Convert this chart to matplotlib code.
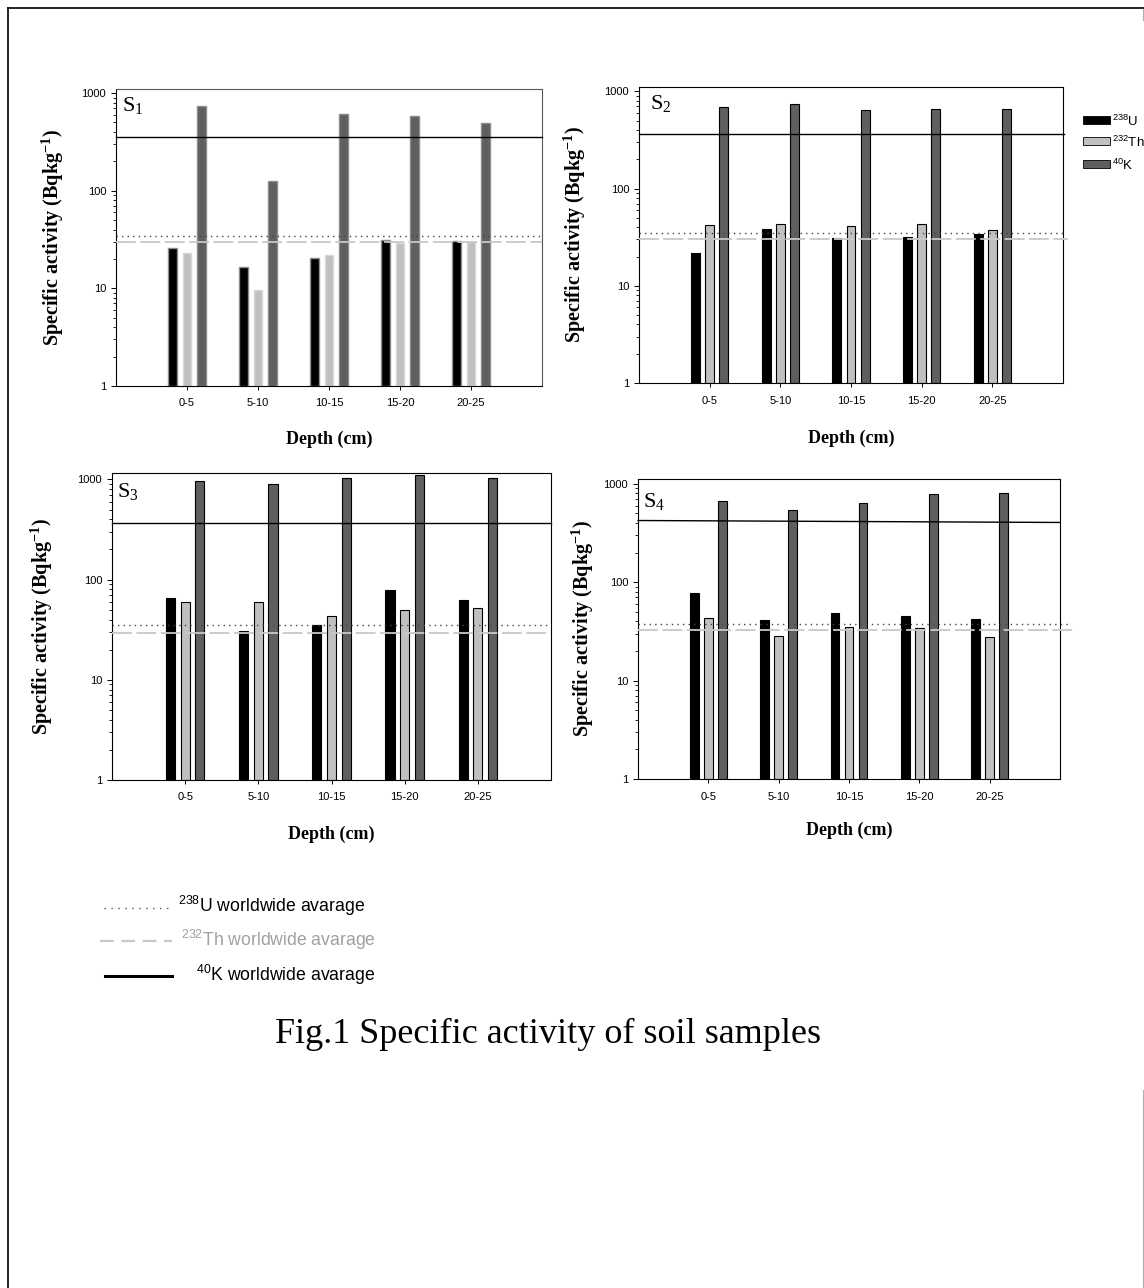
import matplotlib
matplotlib.use('Agg')
import matplotlib.pyplot as plt
from matplotlib.lines import Line2D
from matplotlib.patches import Rectangle
from matplotlib.ticker import LogLocator, NullFormatter

# ---------------- data ----------------
depths = ['0-5', '5-10', '10-15', '15-20', '20-25']

s1_u = [24.6, 15.7, 19.4, 30.4, 29.2]
s1_th = [22.2, 8.6, 21.0, 28.1, 28.8]
s1_k = [741, 125, 614, 585, 492]

s2_u = [20.9, 37.8, 30.0, 30.8, 33.0]
s2_th = [40.9, 42.2, 40.2, 42.2, 36.3]
s2_k = [684, 746, 648, 663, 653]

s3_u = [64.7, 29.7, 34.4, 78.4, 61.8]
s3_th = [59.0, 59.4, 42.0, 48.7, 51.4]
s3_k = [963, 906, 1040, 1106, 1024]

s4_u = [77.6, 40.3, 47.5, 44.2, 40.9]
s4_th = [42.5, 27.7, 33.9, 33.1, 26.9]
s4_k = [672, 545, 636, 786, 804]

# worldwide averages as drawn in each panel (start, end)
u_avg = [(34.5, 34.5), (34.6, 34.6), (35.5, 35.5), (37.3, 37.3)]
th_avg = [(29.9, 29.9), (30.3, 30.3), (29.5, 29.5), (32.9, 32.9)]
k_avg = [(356, 356), (367, 367), (365, 365), (424, 405)]

panel_names = ['1', '2', '3', '4']
ytick_vals = [1, 10, 100, 1000]
ytick_labels = ['1', '10', '100', '1000']

legend_iso = ['$^{238}$U', '$^{232}$Th', '$^{40}$K']
avg_labels = ['$^{238}$U worldwide avarage', '$^{232}$Th worldwide avarage',
              '$^{40}$K worldwide avarage']
caption = 'Fig.1 Specific activity of soil samples'

# ---------------- style ----------------
W, H = 1144, 1288
plt.rcParams['font.family'] = ['Liberation Sans', 'DejaVu Sans']
plt.rcParams['mathtext.fontset'] = 'custom'
plt.rcParams['mathtext.rm'] = 'Liberation Sans'
plt.rcParams['mathtext.it'] = 'Liberation Sans:italic'
plt.rcParams['mathtext.bf'] = 'Liberation Serif:bold'
plt.rcParams['mathtext.sf'] = 'Liberation Serif'

c_u, c_th, c_k = '#000000', '#c0c0c0', '#5f5f5f'


def fx(x):
    return x / W


def fy(y):
    return 1 - y / H


fig = plt.figure(figsize=(W / 100, H / 100), dpi=100)

# axes boxes in pixels (left, top, right, bottom)
boxes = [(116, 89, 542, 386), (639, 87, 1063, 383),
         (112, 473, 551, 780), (638, 479, 1060, 779)]
ytops = [1100, 1110, 1160, 1120]
ylab_x = [-0.117, -0.12, -0.13, -0.10]
xlab_y = [-0.152, -0.159, -0.150, -0.143]
slabel_pos = [(0.014, 0.923), (0.026, 0.926), (0.011, 0.919), (0.012, 0.907)]
line_ext = [(6.0, 6.0, 6.0), (6.04, 6.07, 6.02), (6.0, 6.0, 6.0), (6.15, 6.19, 6.0)]
edge_styles = [('#8c8c8c', 1.0), ('#000000', 0.8), ('#000000', 0.8), ('#000000', 0.8)]

data = [(s1_u, s1_th, s1_k), (s2_u, s2_th, s2_k), (s3_u, s3_th, s3_k), (s4_u, s4_th, s4_k)]

width = 0.125
offs = [-0.2, 0.0, 0.2]
xs = list(range(1, len(depths) + 1))

for i, (box, (u, th, k)) in enumerate(zip(boxes, data)):
    l, t, r, b = box
    ax = fig.add_axes([fx(l), fy(b), (r - l) / W, (b - t) / H])
    ax.set_yscale('log')
    ec, elw = edge_styles[i]
    for vals, off, col in zip((u, th, k), offs, (c_u, c_th, c_k)):
        e = ec if not (i == 0 and col == c_th) else '#d8d8d8'
        ax.bar([x + off for x in xs], vals, width=width, bottom=1, color=col,
               edgecolor=e, linewidth=elw, zorder=2)
    ax.set_xlim(0, 6)
    ax.set_ylim(1, ytops[i])
    # worldwide averages
    eu, eth, ek = line_ext[i]
    ax.plot([0, eu], list(u_avg[i]), linestyle=(0, (1, 3)), color='#444444',
            linewidth=1.0, clip_on=False, zorder=3)
    ax.plot([0, eth], list(th_avg[i]), linestyle=(0, (11, 2.5)), color='#c8c8c8',
            linewidth=1.3, clip_on=False, zorder=3)
    ax.plot([0, ek], list(k_avg[i]), linestyle='-', color='#000000',
            linewidth=1.0, clip_on=False, zorder=3)

    ax.set_yticks(ytick_vals)
    ax.set_yticklabels(ytick_labels)
    ax.yaxis.set_minor_locator(LogLocator(base=10, subs=range(2, 10)))
    ax.yaxis.set_minor_formatter(NullFormatter())
    ax.set_xticks(xs)
    ax.set_xticklabels(depths)
    ax.tick_params(axis='y', which='major', direction='out', length=3.6, width=0.7,
                   labelsize=8, pad=3.5, right=False)
    ax.tick_params(axis='y', which='minor', direction='out', length=2.2, width=0.6)
    ax.tick_params(axis='x', which='major', direction='out', length=3.0, width=0.7,
                   labelsize=8, pad=6, top=False)
    for sp in ax.spines.values():
        sp.set_linewidth(0.8)
        sp.set_color('#000000')
    if i == 0:
        ax.spines['top'].set_color('#555555')
        ax.spines['right'].set_color('#555555')

    ax.set_ylabel('Specific activity (Bqkg$^{\\mathbf{-1}}$)', family='Liberation Serif',
                  fontweight='bold', fontsize=14.5)
    ax.yaxis.set_label_coords(ylab_x[i], 0.5)
    ax.set_xlabel('Depth (cm)', family='Liberation Serif', fontweight='bold',
                  fontsize=13)
    ax.xaxis.set_label_coords(0.5, xlab_y[i])
    sx, sy = slabel_pos[i]
    ax.text(sx, sy, 'S$_{\\mathsf{' + panel_names[i] + '}}$', transform=ax.transAxes,
            family='Liberation Serif', fontsize=16, ha='left', va='baseline', zorder=5)

# ---------------- top-right legend ----------------
leg_rows = [120, 141, 164]
for yy, col, lab in zip(leg_rows, (c_u, c_th, c_k), legend_iso):
    fig.add_artist(Rectangle((fx(1083), fy(yy + 3.5)), 27 / W, 7 / H,
                             transform=fig.transFigure, facecolor=col,
                             edgecolor='#000000', linewidth=0.6))
    fig.text(fx(1112), fy(yy + 1), lab, fontsize=9.5, ha='left', va='center')

# ---------------- bottom legend ----------------
fig.add_artist(Line2D([fx(104), fx(170)], [fy(908), fy(908)], transform=fig.transFigure,
                      linestyle=(0, (1, 4)), color='#555555', linewidth=1.0))
fig.add_artist(Line2D([fx(100), fx(172)], [fy(941), fy(941)], transform=fig.transFigure,
                      linestyle=(0, (6.2, 3.4)), color='#c8c8c8', linewidth=1.6))
fig.add_artist(Line2D([fx(105), fx(172)], [fy(976), fy(976)], transform=fig.transFigure,
                      linestyle='-', color='#000000', linewidth=2.2))
fig.text(fx(178), fy(906), avg_labels[0], fontsize=12.7, ha='left', va='center',
         color='#000000')
fig.text(fx(181), fy(940), avg_labels[1], fontsize=12.7, ha='left', va='center',
         color='#a0a0a0')
fig.text(fx(196), fy(975), avg_labels[2], fontsize=12.7, ha='left', va='center',
         color='#000000')

# ---------------- caption ----------------
fig.text(fx(548), fy(1034), caption, family='Liberation Serif', fontsize=26,
         ha='center', va='center')

# ---------------- page frame ----------------
fig.add_artist(Line2D([fx(8), fx(8)], [fy(8), 0], transform=fig.transFigure,
                      color='#000000', linewidth=1.2))
fig.add_artist(Line2D([fx(8), 1], [fy(8), fy(8)], transform=fig.transFigure,
                      color='#000000', linewidth=1.2))
fig.add_artist(Line2D([fx(1143), fx(1143)], [fy(1090), 0], transform=fig.transFigure,
                      color='#b0b0b0', linewidth=0.8))
fig.add_artist(Line2D([fx(1143), fx(1143)], [fy(9), fy(20)], transform=fig.transFigure,
                      color='#b0b0b0', linewidth=0.8))

fig.savefig('out.png', dpi=100)
